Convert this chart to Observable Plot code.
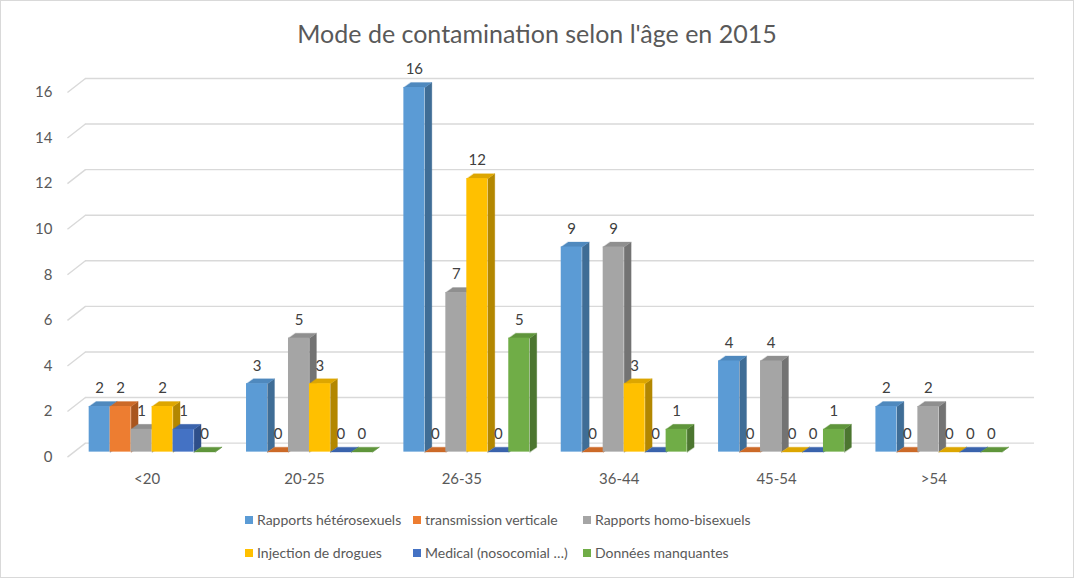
<!DOCTYPE html>
<html>
<head>
<meta charset="utf-8">
<script src="https://cdn.jsdelivr.net/npm/d3@7"></script>
<script src="https://cdn.jsdelivr.net/npm/@observablehq/plot@0.6"></script>
<style>
  html, body { margin: 0; padding: 0; background: #fff; }
  #wrap { position: relative; width: 1074px; height: 578px; box-sizing: border-box; border: 1px solid #d9d9d9; overflow: hidden; font-family: Lato, "Liberation Sans", sans-serif; }
  #title { position: absolute; left: 0; top: 16px; width: 1072px; text-align: center; font-size: 25px; color: #595959; line-height: 32px; }
  #chart { position: absolute; left: -1px; top: 59px; }
  .lg { position: absolute; font-size: 14px; color: #595959; line-height: 16px; white-space: nowrap; }
  .sw { position: absolute; width: 8px; height: 8px; }
</style>
</head>
<body>
<div id="wrap">
  <div id="title">Mode de contamination selon l'âge en 2015</div>
  <div id="chart"></div>
  <div id="legend"></div>
</div>
<script>
// ---- data ----
const categories = ["<20", "20-25", "26-35", "36-44", "45-54", ">54"];
const seriesNames = ["Rapports hétérosexuels", "transmission verticale", "Rapports homo-bisexuels",
                     "Injection de drogues", "Medical (nosocomial …)", "Données manquantes"];
const heterosexuels  = [2, 3, 16, 9, 4, 2];
const verticale      = [2, 0, 0, 0, 0, 0];
const homoBisexuels  = [1, 5, 7, 9, 4, 2];
const drogues        = [2, 3, 12, 3, 0, 0];
const medical        = [1, 0, 0, 0, 0, 0];
const manquantes     = [0, 0, 5, 1, 1, 0];
const yTicks = [0, 2, 4, 6, 8, 10, 12, 14, 16];

const frontColors = ["#5B9BD5", "#ED7D31", "#A5A5A5", "#FFC000", "#4472C4", "#70AD47"];
const topColors   = ["#4F89BE", "#CC6A28", "#8F8F8F", "#DDA600", "#3A63AC", "#5F953B"];
const sideColors  = ["#3F6D96", "#A9561F", "#737373", "#B38700", "#2E4F8A", "#4C7630"];

const seriesValues = [heterosexuels, verticale, homoBisexuels, drogues, medical, manquantes];

// ---- layout constants (pixels) ----
const W = 1074, H = 440;
const mL = 73, mR = 56, mT = 27, mB = 48;
const pxX = (W - mL - mR) / categories.length;   // px per x unit
const pxY = (H - mT - mB) / 16;                  // px per y unit
const bw = 0.8 / seriesNames.length;             // bar width in x units
const depthX = 7 / pxX, depthY = 5 / pxY;        // 3D depth

// bars
const bars = [];
seriesValues.forEach((vals, s) => {
  vals.forEach((v, i) => {
    const x0 = i + 0.1 + s * bw;
    bars.push({cat: categories[i], series: seriesNames[s], s, i, v, x0, x1: x0 + bw});
  });
});

// faces as closed polygons
const sides = [], tops = [];
bars.forEach((b, k) => {
  const c1 = sideColors[b.s], c2 = topColors[b.s];
  [[b.x1, 0], [b.x1, b.v], [b.x1 + depthX, b.v + depthY], [b.x1 + depthX, depthY]]
    .forEach(([x, y]) => sides.push({id: k, x, y, color: c1}));
  [[b.x0, b.v], [b.x1, b.v], [b.x1 + depthX, b.v + depthY], [b.x0 + depthX, b.v + depthY]]
    .forEach(([x, y]) => tops.push({id: k, x, y, color: c2}));
});

// grid geometry (front end, back start, back end) in x units
const gFront = (67 - mL) / pxX, gBack0 = (85 - mL) / pxX, gBack1 = (1035 - mL) / pxX;
const gridColor = "#d9d9d9";

const chart = Plot.plot({
  width: W, height: H,
  marginLeft: mL, marginRight: mR, marginTop: mT, marginBottom: mB,
  x: {domain: [0, categories.length], axis: null},
  y: {domain: [0, 16], axis: null},
  color: {type: "identity"},
  style: {fontFamily: "Lato, 'Liberation Sans', sans-serif", background: "transparent", overflow: "visible"},
  marks: [
    Plot.ruleY(yTicks, {y: d => d, x1: () => gBack0, x2: () => gBack1, dy: -9, stroke: gridColor, strokeWidth: 1.4}),
    Plot.link(yTicks, {x1: () => gFront, y1: d => d - 5 / pxY, x2: () => gBack0, y2: d => d + 9 / pxY, stroke: gridColor, strokeWidth: 1.4}),
    Plot.text(yTicks, {x: () => gFront, y: d => d, dy: 5, dx: -15, text: d => String(d), textAnchor: "end", fill: "#595959", fontSize: 15}),
    Plot.line(sides, {x: "x", y: "y", z: "id", fill: "color", stroke: "color", strokeWidth: 0.3, curve: "linear-closed"}),
    Plot.line(tops, {x: "x", y: "y", z: "id", fill: "color", stroke: "color", strokeWidth: 0.3, curve: "linear-closed"}),
    Plot.rect(bars, {x1: "x0", x2: "x1", y1: () => 0, y2: "v", fill: d => frontColors[d.s]}),
    Plot.text(bars, {x: d => d.x0 + bw / 2, y: "v", dy: -18, text: d => String(d.v), fill: "#404040", fontSize: 15}),
    Plot.text(categories, {x: (d, i) => i + 0.5, y: () => 0, dy: 27, dx: -5, text: d => d, fill: "#595959", fontSize: 15})
  ]
});
document.getElementById("chart").appendChild(chart);

// legend
const legend = document.getElementById("legend");
const colX = [245, 413, 583];
const rowY = [516, 549];
seriesNames.forEach((name, s) => {
  const col = s % 3, row = Math.floor(s / 3);
  const sw = document.createElement("div");
  sw.className = "sw";
  sw.style.left = (colX[col] - 1) + "px";
  sw.style.top = (rowY[row] - 1) + "px";
  sw.style.background = frontColors[s];
  legend.appendChild(sw);
  const t = document.createElement("div");
  t.className = "lg";
  t.style.left = (colX[col] + 11) + "px";
  t.style.top = (rowY[row] - 5) + "px";
  t.textContent = name;
  legend.appendChild(t);
});
</script>
</body>
</html>
